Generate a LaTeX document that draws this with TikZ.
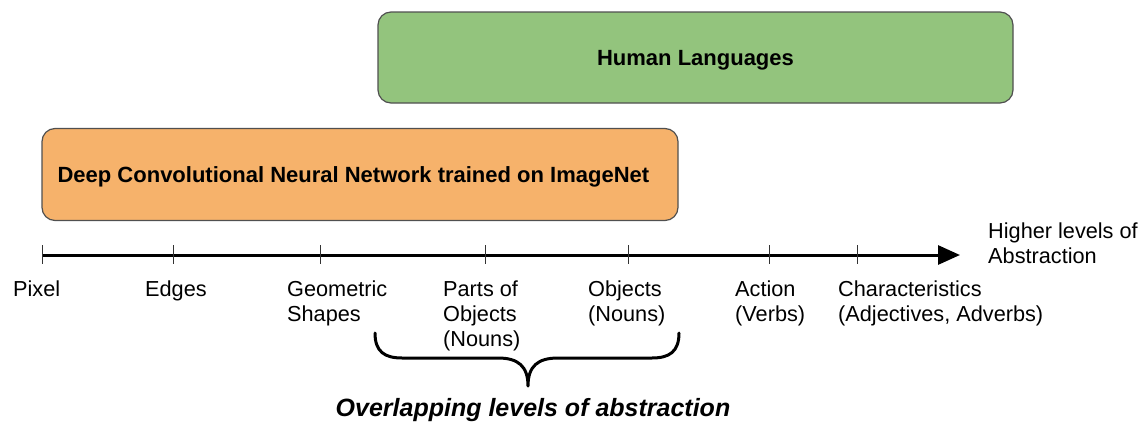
\documentclass[tikz,border=0pt]{standalone}
\usepackage{fontspec}
\setmainfont{Liberation Sans}
\usetikzlibrary{arrows.meta}
\definecolor{boxorange}{HTML}{F6B26B}
\definecolor{boxgreen}{HTML}{93C47D}
\definecolor{boxedge}{HTML}{505050}
\begin{document}
\begin{tikzpicture}[x=1pt,y=-1pt,
  block/.style={draw=boxedge, line width=1.2pt, rounded corners=13pt,
    inner sep=0pt, text depth=0pt, font=\fontsize{22}{25}\selectfont\bfseries},
  blocktext/.style={inner sep=0pt, text depth=0pt,
    font=\fontsize{22}{25}\selectfont\bfseries},
  level/.style={font=\fontsize{21.7}{25}\selectfont, align=left,
    anchor=base west, inner sep=0pt},
  tickmark/.style={line width=1pt, draw=black!80},
  axis/.style={line width=3pt, -{Triangle[length=22pt,width=19pt]}},
  brace/.style={line width=3pt, line cap=round, line join=round}]
\useasboundingbox (0,0) rectangle (1143,423);

% coloured range boxes
\node[block, fill=boxgreen, minimum width=635pt, minimum height=91pt]
  (lang) at (695.5,57.5) {Human Languages};
\node[block, fill=boxorange, minimum width=636pt, minimum height=92pt]
  (cnn) at (360,174.5) {};
\node[blocktext, anchor=west] (cnntext) at ([xshift=16pt]cnn.west)
  {Deep Convolutional Neural Network trained on ImageNet};

% abstraction axis
\coordinate (axstart) at (42,255);
\coordinate (axend) at (960,255);
\draw[axis] (axstart) -- (axend);
\foreach \x in {42,173,320,485,628,769,857}
  \draw[tickmark] (\x,245) -- (\x,264);

% level labels (anchored on the baseline of their last line)
\node[level] (pixel) at (13,296) {Pixel};
\node[level] (edges) at (145,296) {Edges};
\node[level] (geo) at (287,321) {Geometric\\Shapes};
\node[level] (parts) at (443,346) {Parts of\\Objects\\(Nouns)};
\node[level] (obj) at (588,321) {Objects\\(Nouns)};
\node[level] (act) at (735,321) {Action\\(Verbs)};
\node[level] (char) at (838,321) {Characteristics\\(Adjectives, Adverbs)};
\node[level] (higher) at (988,263) {Higher levels of\\Abstraction};

% brace over the overlapping levels
\draw[brace] (375,333) .. controls (375,352) and (385,358) .. (402,358)
  -- (498,358) .. controls (518,358) and (528,366) .. (528,386)
  .. controls (528,366) and (538,358) .. (558,358)
  -- (652,358) .. controls (669,358) and (679,352) .. (679,333);
\node[font=\fontsize{25}{28}\selectfont\bfseries\itshape] (overlap)
  at (533,410) {Overlapping levels of abstraction};
\end{tikzpicture}
\end{document}
